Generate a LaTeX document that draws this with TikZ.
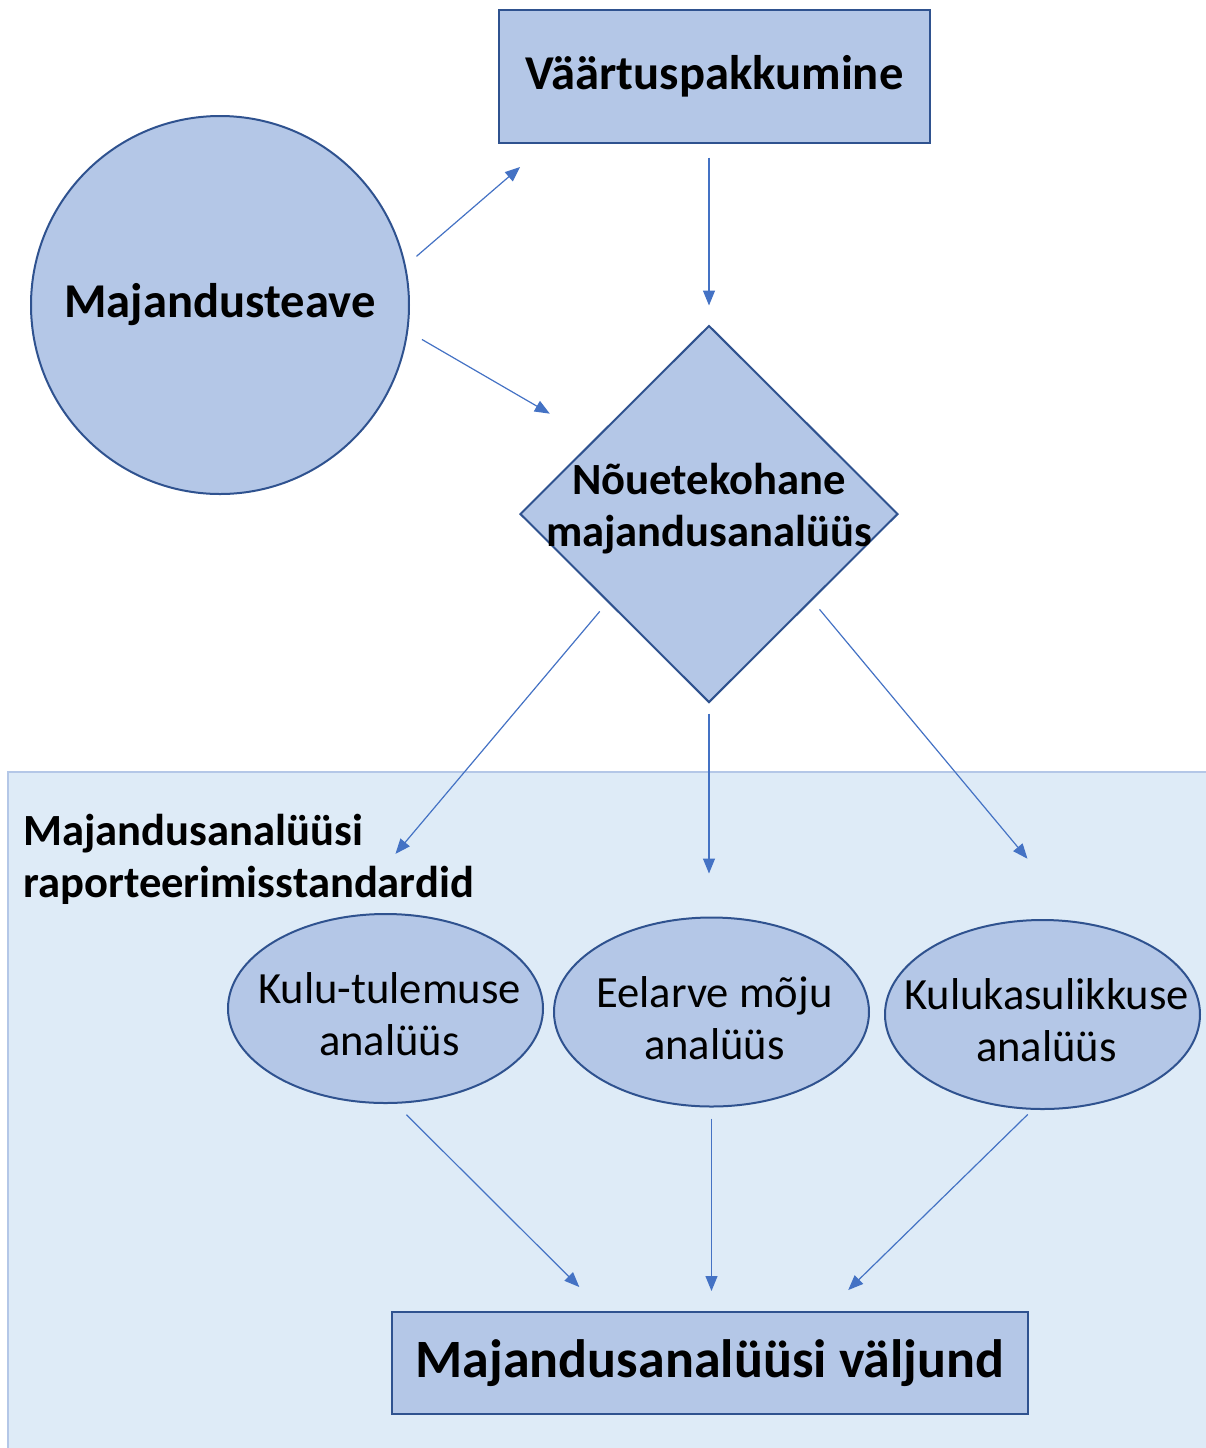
\documentclass[tikz,border=0pt]{standalone}
\usepackage{fontspec}
\setmainfont{Carlito}
\usetikzlibrary{shapes.geometric,arrows.meta}
\definecolor{boxblue}{HTML}{B4C7E7}
\definecolor{edgeblue}{HTML}{2F528F}
\definecolor{arrowblue}{HTML}{4472C4}
\definecolor{panelblue}{HTML}{DEEBF7}
\begin{document}
\begin{tikzpicture}[x=0.5pt,y=-0.5pt,
  box/.style={draw=edgeblue,fill=boxblue,line width=1pt,inner sep=0pt},
  bigtext/.style={font=\fontsize{24.3}{29}\selectfont\bfseries},
  midtext/.style={font=\fontsize{22.3}{26}\selectfont\bfseries,align=center},
  elltext/.style={font=\fontsize{22.3}{26}\selectfont,align=center},
  ell/.style={box,ellipse,minimum width=157.5pt,minimum height=94.5pt},
  arr/.style={draw=arrowblue,line width=0.6pt,-{Triangle[length=7.5pt,width=6pt]}}]
\useasboundingbox (0,0) rectangle (1206,1448);
% panel for the standards
\fill[panelblue] (8,772) rectangle (1206,1448);
\draw[boxblue,line width=1pt] (1206,772) -- (8,772) -- (8,1448);
\node[midtext,align=left,anchor=north west,inner sep=0pt] (std) at (23,814)
  {Majandusanalüüsi\\raporteerimisstandardid};
% main nodes
\node[box,rectangle,minimum width=215.5pt,minimum height=66.5pt,bigtext] (vp) at (714.5,76) {Väärtuspakkumine};
\node[box,circle,minimum size=189pt,bigtext] (circ) at (220,305) {Majandusteave};
\node[box,diamond,aspect=1,minimum width=189pt,minimum height=188.5pt,
  label={[midtext,yshift=2.5pt]center:Nõuetekohane\\majandusanalüüs}] (dia) at (709,514) {};
\node[ell,label={[elltext,xshift=2pt,yshift=-3pt]center:Kulu-tulemuse\\analüüs}] (e1) at (385.5,1008.5) {};
\node[ell,label={[elltext,xshift=1.5pt,yshift=-3pt]center:Eelarve mõju\\analüüs}] (e2) at (711.5,1012) {};
\node[ell,label={[elltext,xshift=2pt,yshift=-3pt]center:Kulukasulikkuse\\analüüs}] (e3) at (1042.5,1014.5) {};
\node[box,rectangle,minimum width=318pt,minimum height=51pt,font=\fontsize{27}{32}\selectfont\bfseries] (out) at (710,1363) {Majandusanalüüsi väljund};
% arrows
\draw[arr,shorten <=7pt,shorten >=18pt] (circ.12) -- (vp.202.9);
\draw[arr,shorten <=8pt,shorten >=25.5pt] (circ.-8.5) -- (dia.147.6);
\draw[arr,shorten <=7pt,shorten >=9.5pt] (dia.north |- vp.south) -- (dia.north);
\draw[arr,shorten <=6pt,shorten >=41pt] (dia.221.8) -- (e1.115.7);
\draw[arr,shorten <=5pt,shorten >=21.5pt] (dia.south) -- (dia.south |- e2.north);
\draw[arr,shorten <=5.7pt,shorten >=41pt] (dia.-40.6) -- (e3.68.2);
\draw[arr,shorten <=7.7pt,shorten >=17pt] (e1.-84.1) -- (out.154.8);
\draw[arr,shorten <=5.5pt,shorten >=10pt] (e2.south) -- (e2.south |- out.north);
\draw[arr,shorten <=3.3pt,shorten >=15pt] (e3.-96.5) -- (out.24.2);
\end{tikzpicture}
\end{document}
